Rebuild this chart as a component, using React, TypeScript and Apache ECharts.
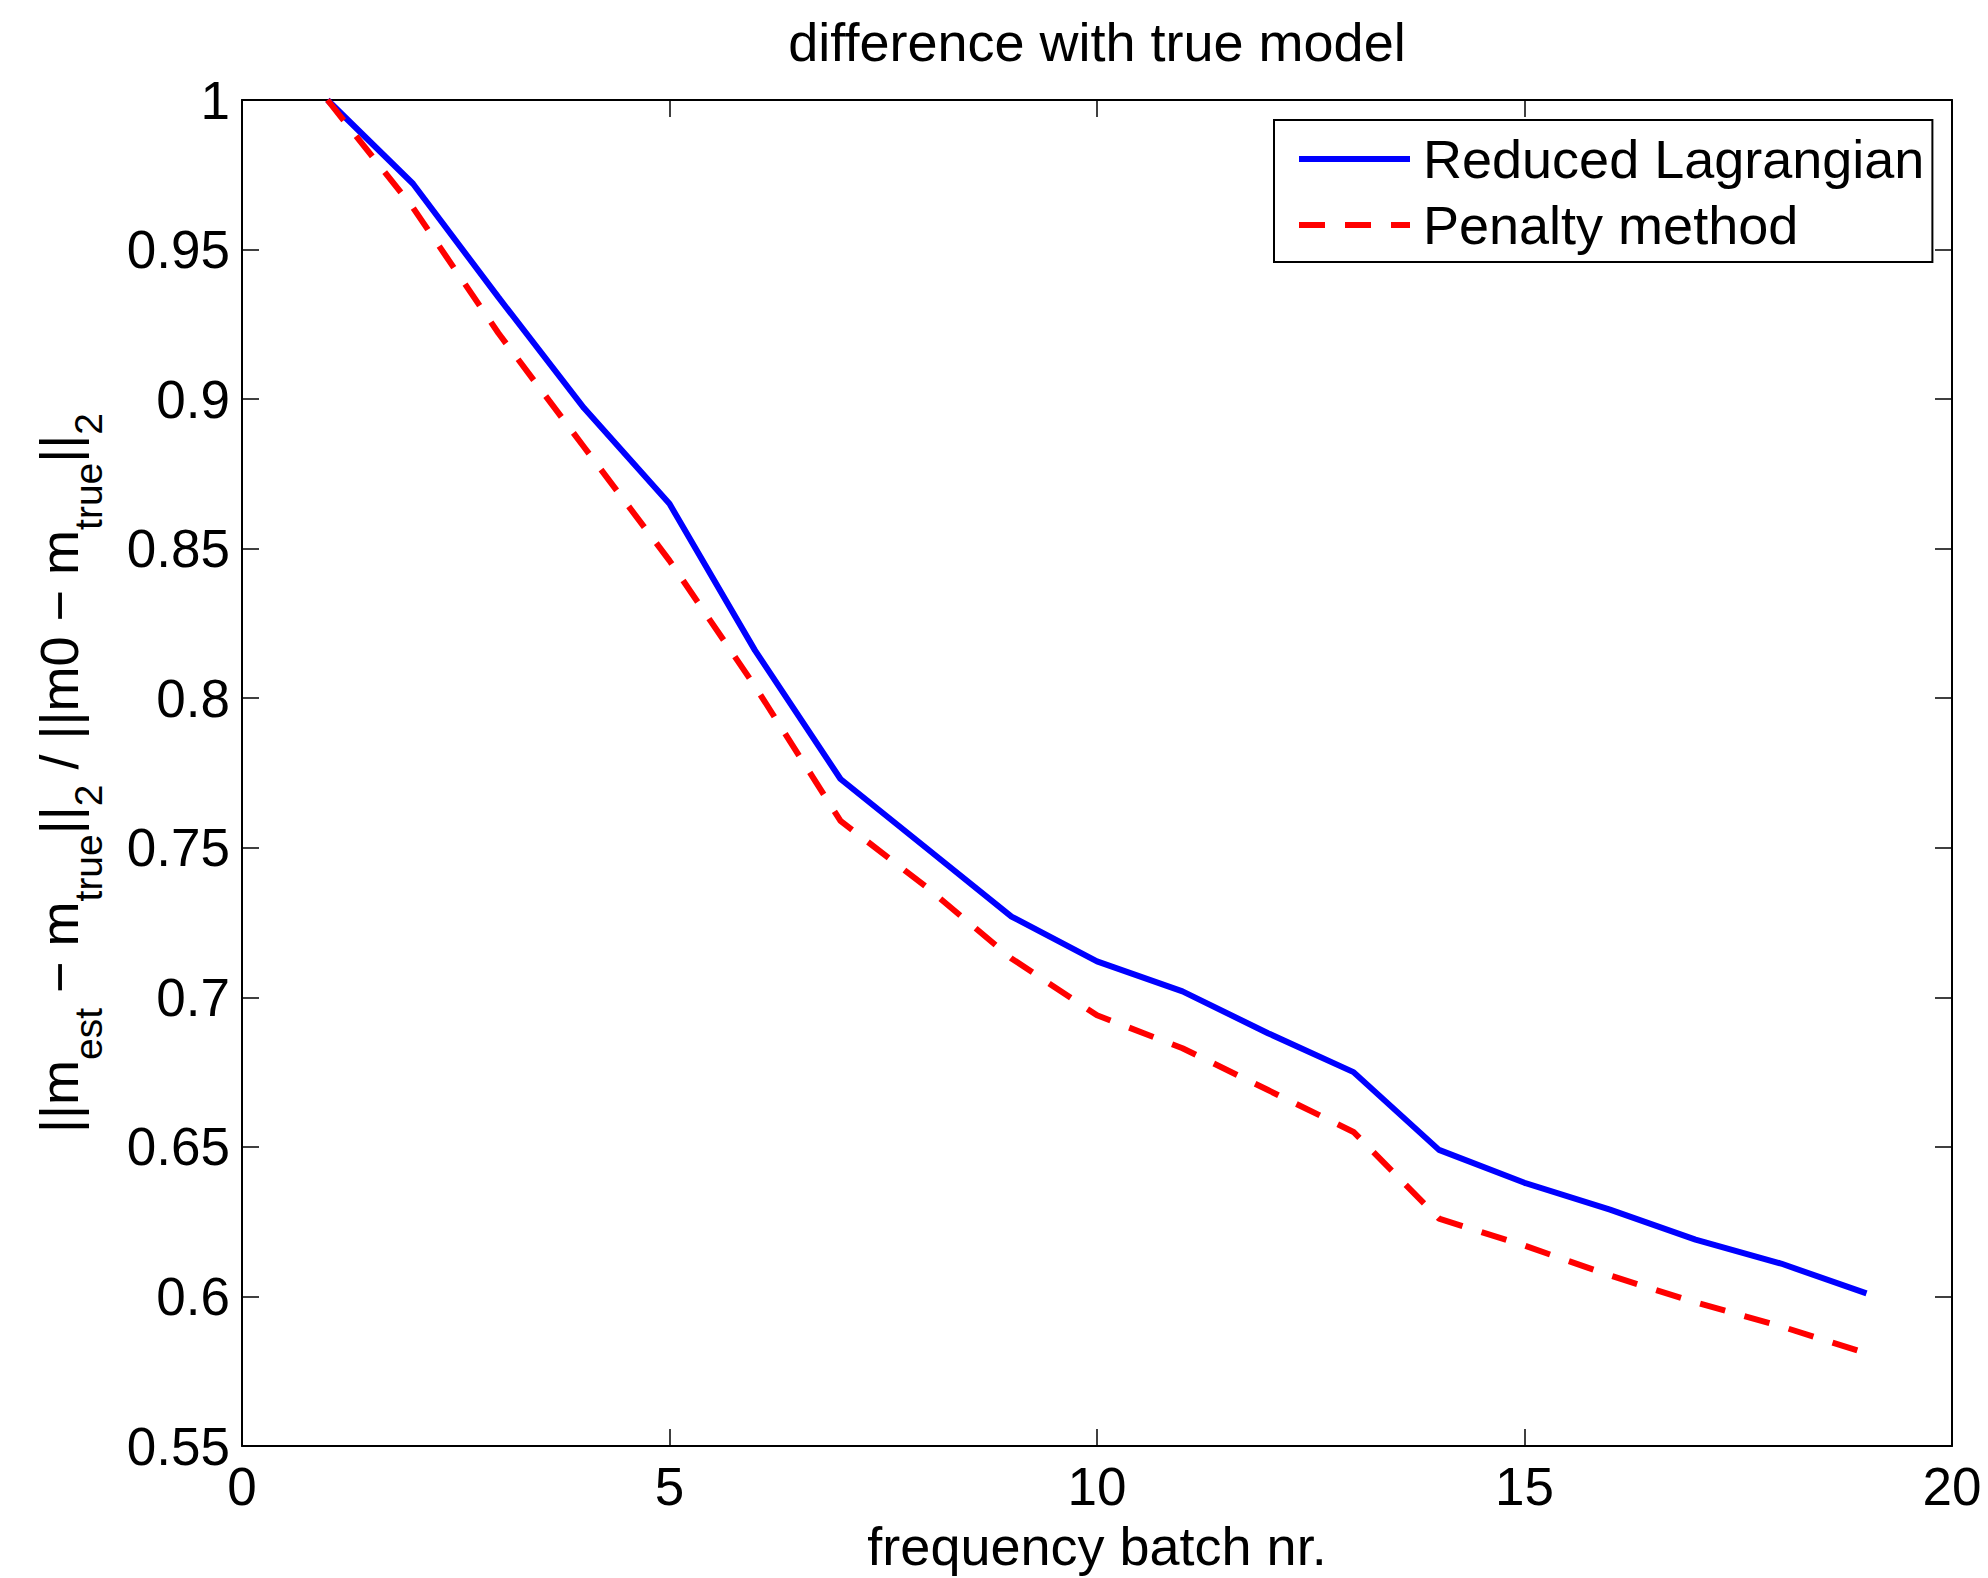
import React, { useEffect, useRef } from "react";
import * as echarts from "echarts";

const batches = [1, 2, 3, 4, 5, 6, 7, 8, 9, 10, 11, 12, 13, 14, 15, 16, 17, 18, 19];
const reducedLagrangian = [1.0, 0.972, 0.934, 0.897, 0.865, 0.816, 0.773, 0.75, 0.727, 0.712, 0.702, 0.688, 0.675, 0.649, 0.638, 0.629, 0.619, 0.611, 0.601];
const penaltyMethod = [1.0, 0.964, 0.922, 0.884, 0.846, 0.804, 0.759, 0.737, 0.713, 0.694, 0.683, 0.669, 0.655, 0.626, 0.617, 0.607, 0.598, 0.59, 0.581];
const seriesNames = ["Reduced Lagrangian", "Penalty method"];
const titleText = "difference with true model";
const xAxisName = "frequency batch nr.";

const FONT = '"Liberation Sans", Arial, Helvetica, sans-serif';

export default function App() {
  const ref = useRef<HTMLDivElement>(null);
  useEffect(() => {
    document.body.style.margin = "0";
    const chart = echarts.init(ref.current!, null, { renderer: "svg" });
    const axisLine = { show: true, onZero: false, lineStyle: { color: "#000", width: 2 } };
    const axisTick = { show: true, inside: true, length: 17, lineStyle: { color: "#000", width: 1.5 } };
    const fmt = (v: number) => String(parseFloat(v.toFixed(2)));
    chart.setOption({
      animation: false,
      backgroundColor: "#fff",
      graphic: [
        {
          type: "text",
          x: 1097,
          y: 42,
          style: {
            text: titleText,
            fontSize: 54,
            fontFamily: FONT,
            fill: "#000",
            align: "center",
            verticalAlign: "middle",
          },
        },
      ],
      grid: { left: 242, top: 100, right: 36, bottom: 131, containLabel: false },
      legend: {
        show: true,
        orient: "vertical",
        left: 1274,
        top: 120,
        itemWidth: 111,
        itemHeight: 14,
        itemGap: 12,
        padding: [12, 8, 10, 22],
        borderColor: "#000",
        borderWidth: 2,
        backgroundColor: "#fff",
        textStyle: { fontSize: 54, fontFamily: FONT, color: "#000", padding: [0, 0, 0, 8] },
        lineStyle: { width: "inherit" },
        itemStyle: { opacity: 0, borderWidth: 0 },
        data: seriesNames,
      },
      xAxis: [
        {
          type: "value",
          position: "bottom",
          min: 0,
          max: 20,
          interval: 5,
          axisLine,
          axisTick,
          splitLine: { show: false },
          axisLabel: { color: "#000", fontSize: 53, fontFamily: FONT, margin: 14, formatter: fmt, showMinLabel: true, showMaxLabel: true },
          name: xAxisName,
          nameLocation: "middle",
          nameGap: 73,
          nameTextStyle: { fontSize: 54, fontFamily: FONT, color: "#000" },
        },
        {
          type: "value",
          position: "top",
          min: 0,
          max: 20,
          interval: 5,
          axisLine,
          axisTick,
          splitLine: { show: false },
          axisLabel: { show: false },
        },
      ],
      yAxis: [
        {
          type: "value",
          position: "left",
          min: 0.55,
          max: 1,
          interval: 0.05,
          axisLine,
          axisTick,
          splitLine: { show: false },
          axisLabel: { color: "#000", fontSize: 53, fontFamily: FONT, margin: 12, formatter: fmt, showMinLabel: true, showMaxLabel: true },
          name: "{m|||m}{s|est}{m| − m}{s|true}{m|||}{s|2}{m| / ||m0 − m}{s|true}{m|||}{s|2}",
          nameLocation: "middle",
          nameRotate: 90,
          nameGap: 134,
          nameTextStyle: {
            fontSize: 54,
            fontFamily: FONT,
            color: "#000",
            rich: {
              m: { fontSize: 54, fontFamily: FONT, color: "#000", verticalAlign: "bottom", padding: [0, 0, 22, 0] },
              s: { fontSize: 39, fontFamily: FONT, color: "#000", verticalAlign: "bottom" },
            },
          },
        },
        {
          type: "value",
          position: "right",
          min: 0.55,
          max: 1,
          interval: 0.05,
          axisLine,
          axisTick,
          splitLine: { show: false },
          axisLabel: { show: false },
        },
      ],
      series: [
        {
          name: seriesNames[0],
          type: "line",
          data: batches.map((b, i) => [b, reducedLagrangian[i]]),
          symbol: "none",
          lineStyle: { color: "#0000ff", width: 6 },
          itemStyle: { color: "#0000ff" },
        },
        {
          name: seriesNames[1],
          type: "line",
          data: batches.map((b, i) => [b, penaltyMethod[i]]),
          symbol: "none",
          lineStyle: { color: "#ff0000", width: 6, type: [26, 20] },
          itemStyle: { color: "#ff0000" },
        },
      ],
    });
    return () => chart.dispose();
  }, []);
  return <div ref={ref} style={{ width: 1988, height: 1578 }} />;
}
